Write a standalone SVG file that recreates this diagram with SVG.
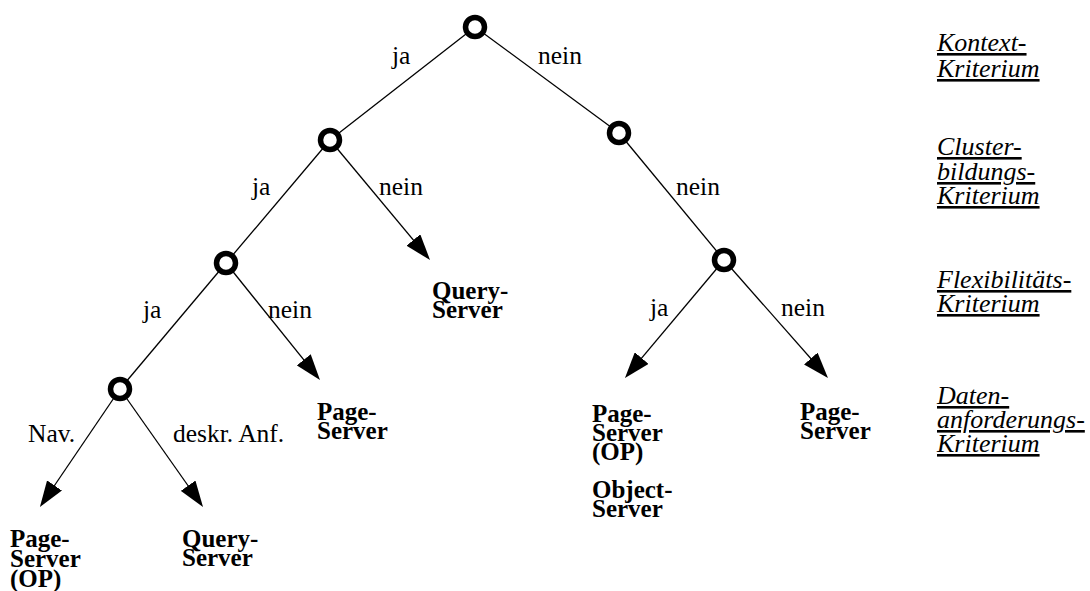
<svg xmlns="http://www.w3.org/2000/svg" width="1090" height="591" viewBox="0 0 1090 591">
<style>
.edge{stroke:#000;stroke-width:1.3;fill:none}
.node{fill:#fff;stroke:#000;stroke-width:5.5}
.lbl{font-family:"Liberation Serif","Times New Roman",serif;font-size:25.5px;fill:#000}
.res{font-family:"Liberation Serif","Times New Roman",serif;font-size:25px;font-weight:bold;fill:#000}
.crit{font-family:"Liberation Serif","Times New Roman",serif;font-size:26px;font-style:italic;text-decoration:underline;fill:#000}
</style>
<defs>
<marker id="ah" viewBox="0 -9 26 18" refX="23" refY="0" markerWidth="26" markerHeight="18" markerUnits="userSpaceOnUse" orient="auto">
<path d="M0,-9 L26,0 L0,9 z" fill="#000"/>
</marker>
</defs>
<g id="connectors">
<line class="edge" x1="475" y1="27" x2="330" y2="140"/>
<line class="edge" x1="475" y1="27" x2="619" y2="133"/>
<line class="edge" x1="330" y1="140" x2="226" y2="263"/>
<line class="edge" x1="330" y1="140" x2="428.1" y2="257.7" marker-end="url(#ah)"/>
<line class="edge" x1="619" y1="133" x2="724" y2="260"/>
<line class="edge" x1="226" y1="263" x2="120" y2="389"/>
<line class="edge" x1="226" y1="263" x2="318.1" y2="377.7" marker-end="url(#ah)"/>
<line class="edge" x1="724" y1="260" x2="626.9" y2="375.7" marker-end="url(#ah)"/>
<line class="edge" x1="724" y1="260" x2="826" y2="375.8" marker-end="url(#ah)"/>
<line class="edge" x1="120" y1="389" x2="41.6" y2="504.5" marker-end="url(#ah)"/>
<line class="edge" x1="120" y1="389" x2="201.3" y2="504.5" marker-end="url(#ah)"/>
</g>
<g id="edge-labels">
<text class="lbl" x="392" y="64">ja</text>
<text class="lbl" x="538" y="64">nein</text>
<text class="lbl" x="252" y="195">ja</text>
<text class="lbl" x="379" y="195">nein</text>
<text class="lbl" x="676" y="195">nein</text>
<text class="lbl" x="143" y="318">ja</text>
<text class="lbl" x="268" y="318">nein</text>
<text class="lbl" x="650" y="316">ja</text>
<text class="lbl" x="781" y="316">nein</text>
<text class="lbl" x="28" y="442">Nav.</text>
<text class="lbl" x="173" y="442">deskr. Anf.</text>
</g>
<g id="n-root"><circle class="node" cx="475" cy="27" r="9.5"/></g>
<g id="n-cluster-ja"><circle class="node" cx="330" cy="140" r="9.5"/></g>
<g id="n-cluster-nein"><circle class="node" cx="619" cy="133" r="9.5"/></g>
<g id="n-flex-left"><circle class="node" cx="226" cy="263" r="9.5"/></g>
<g id="n-flex-right"><circle class="node" cx="724" cy="260" r="9.5"/></g>
<g id="n-daten"><circle class="node" cx="120" cy="389" r="9.5"/></g>
<g id="r-query-mid"><text class="res" x="432" y="299">Query-</text><text class="res" x="432" y="318">Server</text></g>
<g id="r-page-mid"><text class="res" x="317" y="420">Page-</text><text class="res" x="317" y="439">Server</text></g>
<g id="r-page-op-obj"><text class="res" x="592" y="422">Page-</text><text class="res" x="592" y="441">Server</text><text class="res" x="592" y="460">(OP)</text><text class="res" x="592" y="498">Object-</text><text class="res" x="592" y="517">Server</text></g>
<g id="r-page-right"><text class="res" x="800" y="420">Page-</text><text class="res" x="800" y="439">Server</text></g>
<g id="r-page-op"><text class="res" x="10" y="547">Page-</text><text class="res" x="10" y="567">Server</text><text class="res" x="10" y="587">(OP)</text></g>
<g id="r-query-bottom"><text class="res" x="182" y="547">Query-</text><text class="res" x="182" y="566">Server</text></g>
<g id="criteria">
<text class="crit" x="937" y="51">Kontext-</text>
<text class="crit" x="937" y="77">Kriterium</text>
<text class="crit" x="937" y="155">Cluster-</text>
<text class="crit" x="937" y="180">bildungs-</text>
<text class="crit" x="937" y="204">Kriterium</text>
<text class="crit" x="937" y="288">Flexibilitäts-</text>
<text class="crit" x="937" y="312">Kriterium</text>
<text class="crit" x="937" y="404">Daten-</text>
<text class="crit" x="937" y="428">anforderungs-</text>
<text class="crit" x="937" y="452">Kriterium</text>
</g>
</svg>
